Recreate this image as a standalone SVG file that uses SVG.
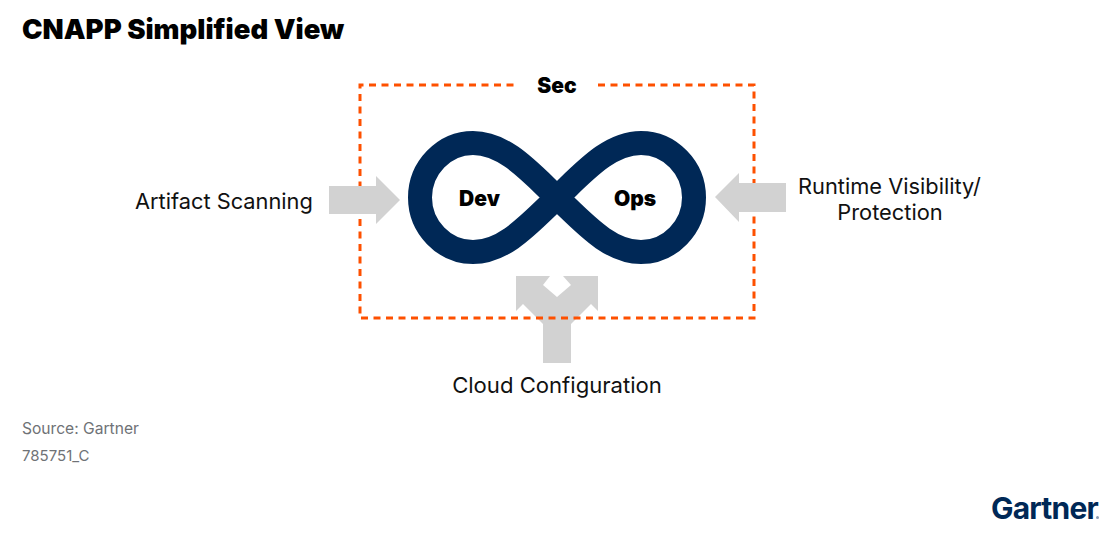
<svg xmlns="http://www.w3.org/2000/svg" width="1113" height="541" viewBox="0 0 1113 541">
<style>
text{font-family:"Inter","Liberation Sans",sans-serif}
.t{font-size:21.8px;fill:#111}
.b{font-weight:900;font-size:21px;fill:#000;text-anchor:middle}
.s{font-size:15.6px;fill:#6f7276}
.a{fill:#d2d2d2}
</style>
<rect width="1113" height="541" fill="#fff"/>
<text id="title" x="22" y="39" style="font-size:27.5px;font-weight:900;fill:#000">CNAPP Simplified View</text>
<g id="connectors">
<path id="c-cloud" class="a" d="M516 276H550L543 285L557 297L571 285L563 276H598V311L591 304L571 324V363H543V324L523 304L516 311Z"/>
</g>
<g id="sec">
<path d="M598 85H754V318H360V85H516" fill="none" stroke="#fe5000" stroke-width="3" stroke-dasharray="7 5.500"/>
<text class="b" x="557" y="93">Sec</text>
</g>
<g id="side-arrows">
<path id="c-artifact" class="a" d="M329 186H376V176L400 200L376 224V214H329Z"/>
<path id="c-runtime" class="a" d="M786 183H739V173L715 197L739 222V212H786Z"/>
</g>
<g id="devops">
<path d="M557 197.5C530 172 505 143 473 143C444 143 420 168 420 197.5C420 227 444 252 473 252C505 252 530 223 557 197.5C584 172 609 143 641 143C670 143 694 168 694 197.5C694 227 670 252 641 252C609 252 584 223 557 197.5Z" fill="none" stroke="#002856" stroke-width="24"/>
<text class="b" x="479.500" y="206">Dev</text>
<text class="b" x="635" y="206">Ops</text>
</g>
<g id="artifact"><text class="t" x="135" y="209">Artifact Scanning</text></g>
<g id="runtime"><text class="t" x="889.500" y="194" text-anchor="middle">Runtime Visibility/</text><text class="t" x="890" y="220" text-anchor="middle">Protection</text></g>
<g id="cloud"><text class="t" x="557" y="393" text-anchor="middle" style="font-size:22.100px">Cloud Configuration</text></g>
<g id="source"><text class="s" x="22" y="434">Source: Gartner</text><text class="s" x="22" y="461" style="font-size:15px">785751_C</text></g>
<g id="logo"><text x="991" y="519" style="font-size:30px;font-weight:700;fill:#002856;letter-spacing:-.8px">Gartner</text><circle cx="1097.500" cy="517.500" r="1.500" fill="#8a9bb3"/></g>
</svg>
